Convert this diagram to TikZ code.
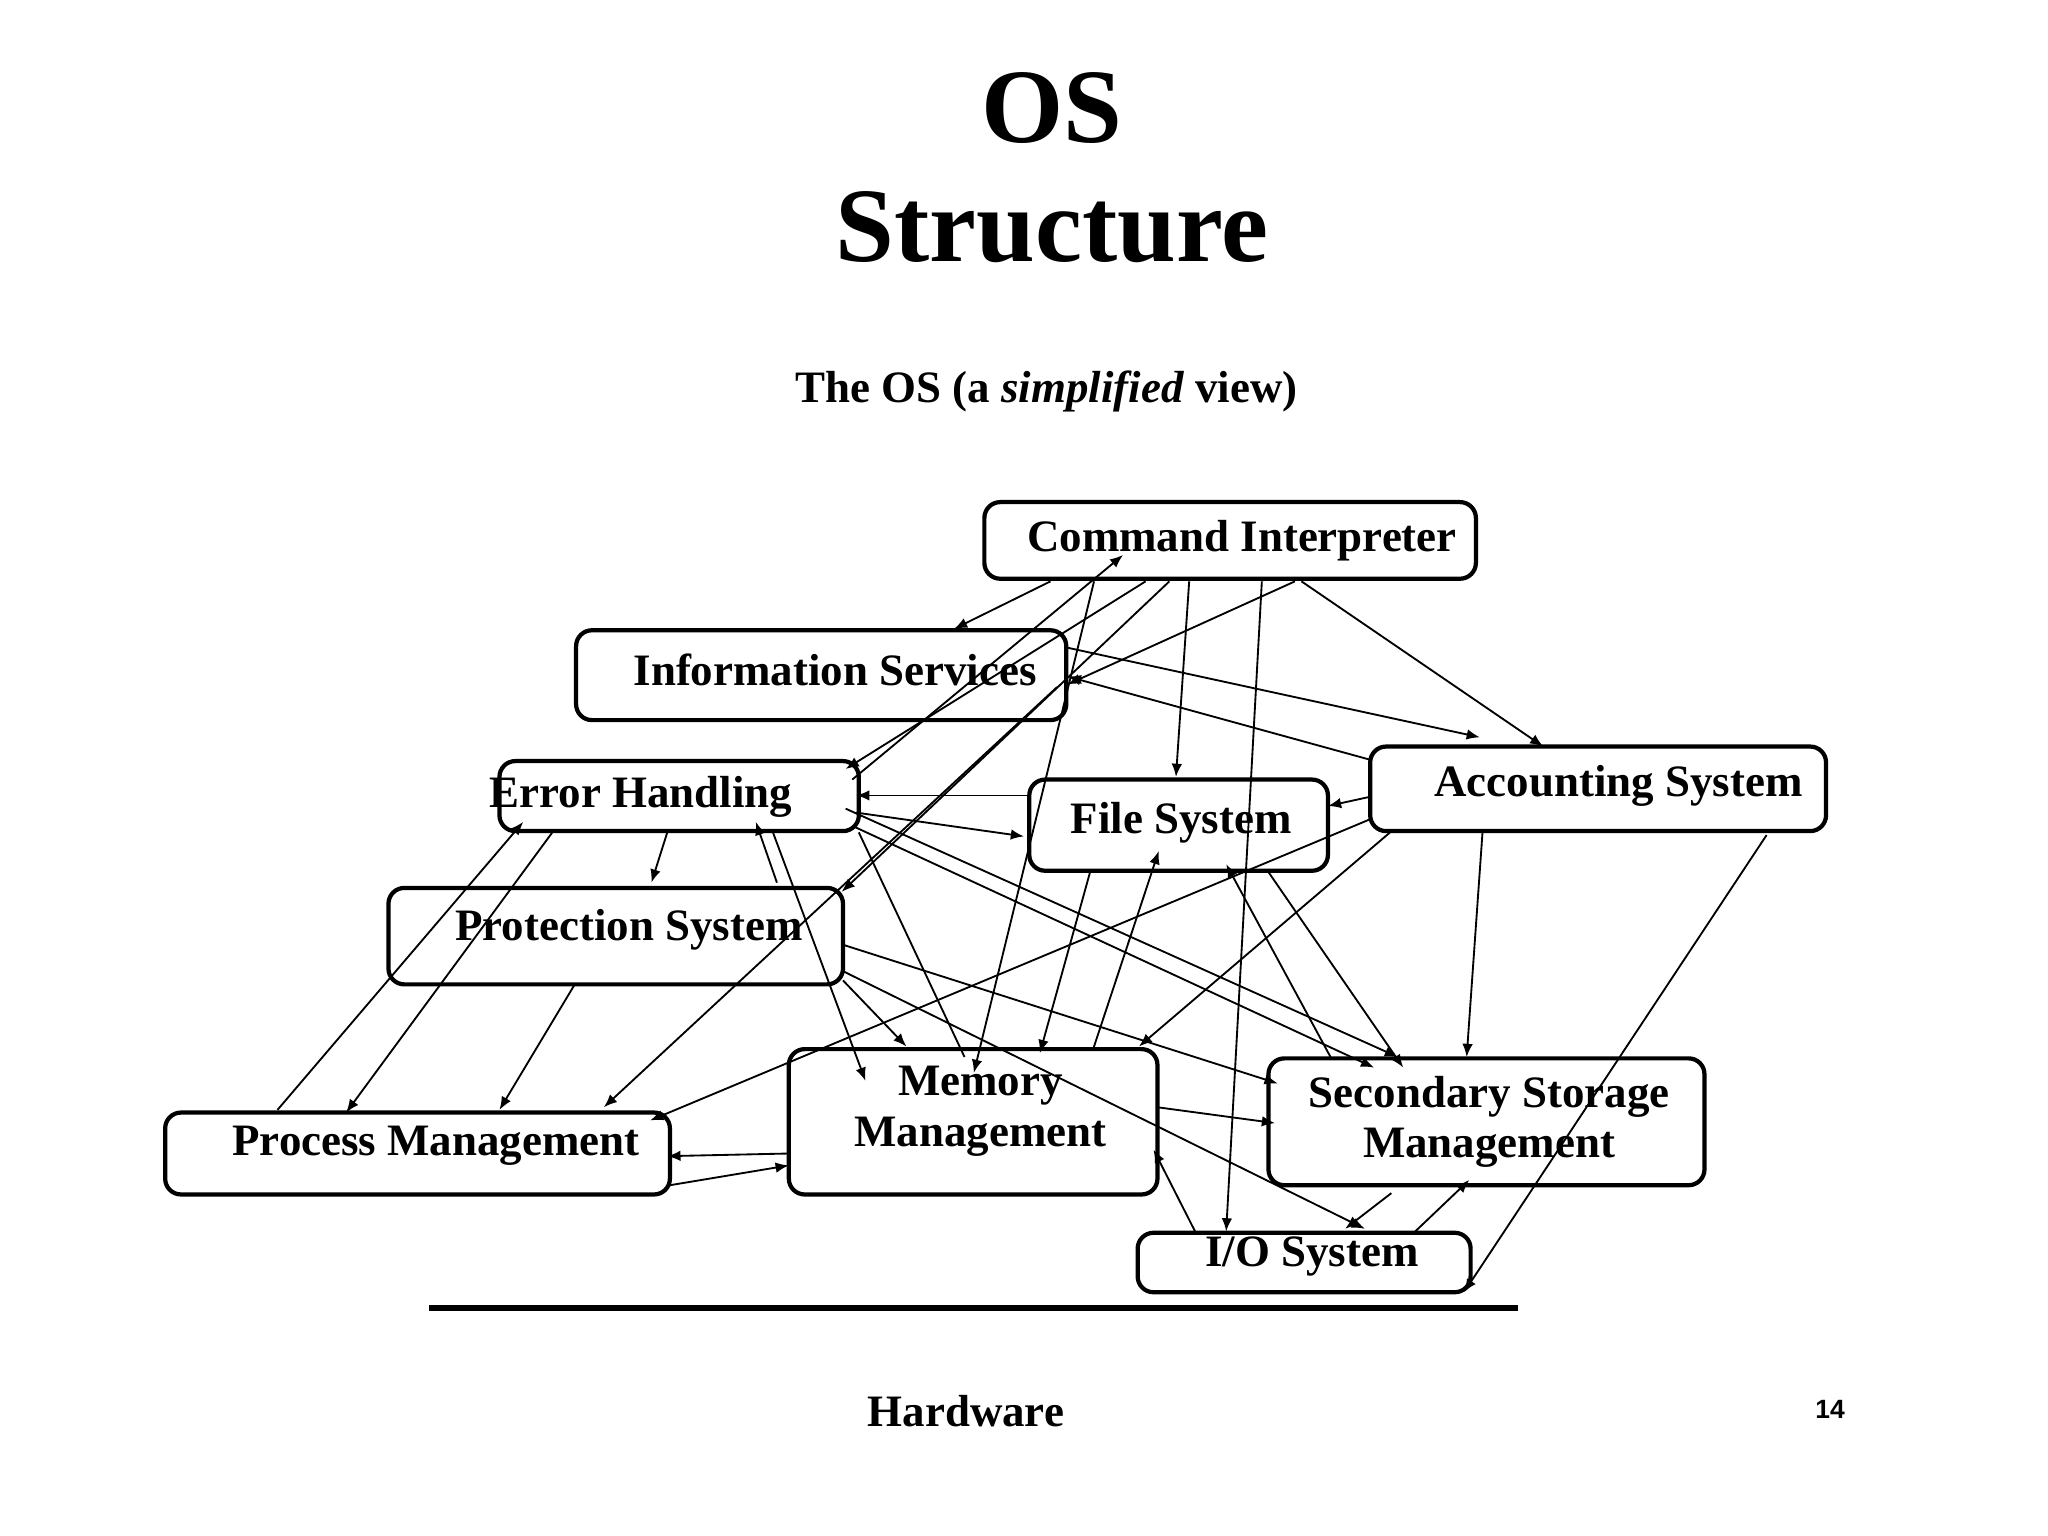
\documentclass[tikz,border=0pt]{standalone}
\usepackage{fontspec}
\setmainfont{Liberation Serif}
\newfontfamily\sansf{Liberation Sans}
\usetikzlibrary{arrows.meta}
\begin{document}
\begin{tikzpicture}[x=0.5pt,y=-0.5pt,
 box/.style={draw,line width=1.6pt,rounded corners=6pt,inner sep=0pt},
 lab/.style={font=\bfseries\fontsize{17}{19}\selectfont,inner sep=0pt,align=center},
 ar/.style={-{Latex[length=5pt,width=4pt]},line width=0.7pt}]
\useasboundingbox (0,0) rectangle (1550,1162);
\node[font=\bfseries\fontsize{40}{44}\selectfont] (t1) at (796,82) {OS};
\node[font=\bfseries\fontsize{40}{44}\selectfont] (t2) at (796,172) {Structure};
\node[font=\bfseries\fontsize{17}{20}\selectfont] (st) at (792,296) {The OS (a \textit{simplified} view)};
% boxes
\draw[box] (745,380) rectangle (1117,438);
\draw[box] (436,477) rectangle (807,545);
\draw[box] (378,576) rectangle (650,629);
\draw[box] (779,590) rectangle (1005,659);
\draw[box] (1037,565) rectangle (1382,629);
\draw[box] (294,672) rectangle (638,745);
\draw[box] (597,794) rectangle (876,904);
\draw[box] (960,801) rectangle (1290,897);
\draw[box] (125,842) rectangle (507,904);
\draw[box] (861,933) rectangle (1113,978);
\node[lab] (ci) at (940,409) {Command Interpreter};
\node[lab] (is) at (632,507) {Information Services};
\node[lab] (eh) at (485,603) {Error Handling};
\node[lab] (fs) at (894,623) {File System};
\node[lab] (as) at (1225,595) {Accounting System};
\node[lab] (ps) at (476,704) {Protection System};
\node[lab] (mm) at (742,841) {Memory\\Management};
\node[lab] (ssm) at (1127,849) {Secondary Storage\\Management};
\node[lab] (pm) at (330,867) {Process Management};
\node[lab] (io) at (993,951) {I/O System};
\draw[line width=2pt] (325,990) -- (1149,990);
\node[font=\bfseries\fontsize{17}{20}\selectfont] (hw) at (731,1068) {Hardware};
\node[font=\sansf\bfseries\fontsize{10}{12}\selectfont] (pg) at (1385,1067) {14};
% arrows
\draw[ar] (795,440) -- (722,476);
\draw[ar] (867,440) -- (640,582);
\draw[ar] (645,590) -- (850,420);
\draw[ar] (980,440) -- (808,518);
\draw[ar] (900,440) -- (890,588);
\draw[ar] (985,440) -- (1168,565);
\draw[ar] (955,440) -- (928,932);
\draw[ar] (828,440) -- (737,812);
\draw[ar] (885,440) -- (637,675);
\draw[ar] (807,490) -- (1120,558);
\draw[ar] (1037,575) -- (808,512);
\draw[ar] (779,602) -- (648,602);
\draw[ar] (648,615) -- (775,633);
\draw[ar] (640,612) -- (1058,800);
\draw[ar] (645,625) -- (1040,808);
\draw[ar] (505,630) -- (493,668);
\draw[ar] (418,630) -- (262,842);
\draw[ar] (210,840) -- (396,622);
\draw[ar] (585,630) -- (655,818);
\draw[ar] (588,668) -- (572,622);
\draw[line width=0.7pt] (650,630) -- (730,800);
\draw[ar] (435,745) -- (378,840);
\draw[ar] (638,715) -- (967,820);
\draw[ar] (638,735) -- (1033,930);
\draw[ar] (638,742) -- (686,792);
\draw[ar] (825,660) -- (787,797);
\draw[ar] (827,795) -- (877,644);
\draw[ar] (960,660) -- (1062,808);
\draw[ar] (1007,800) -- (928,654);
\draw[ar] (1037,603) -- (1005,610);
\draw[ar] (1052,630) -- (862,792);
\draw[ar] (1122,630) -- (1110,800);
\draw[ar] (1337,632) -- (1108,978);
\draw[ar] (1037,620) -- (492,848);
\draw[ar] (800,520) -- (457,838);
\draw[ar] (507,897) -- (597,882);
\draw[ar] (597,873) -- (505,875);
\draw[ar] (876,838) -- (965,850);
\draw[ar] (905,933) -- (873,870);
\draw[ar] (1053,903) -- (1018,930);
\draw[ar] (1070,933) -- (1112,893);
\end{tikzpicture}
\end{document}
